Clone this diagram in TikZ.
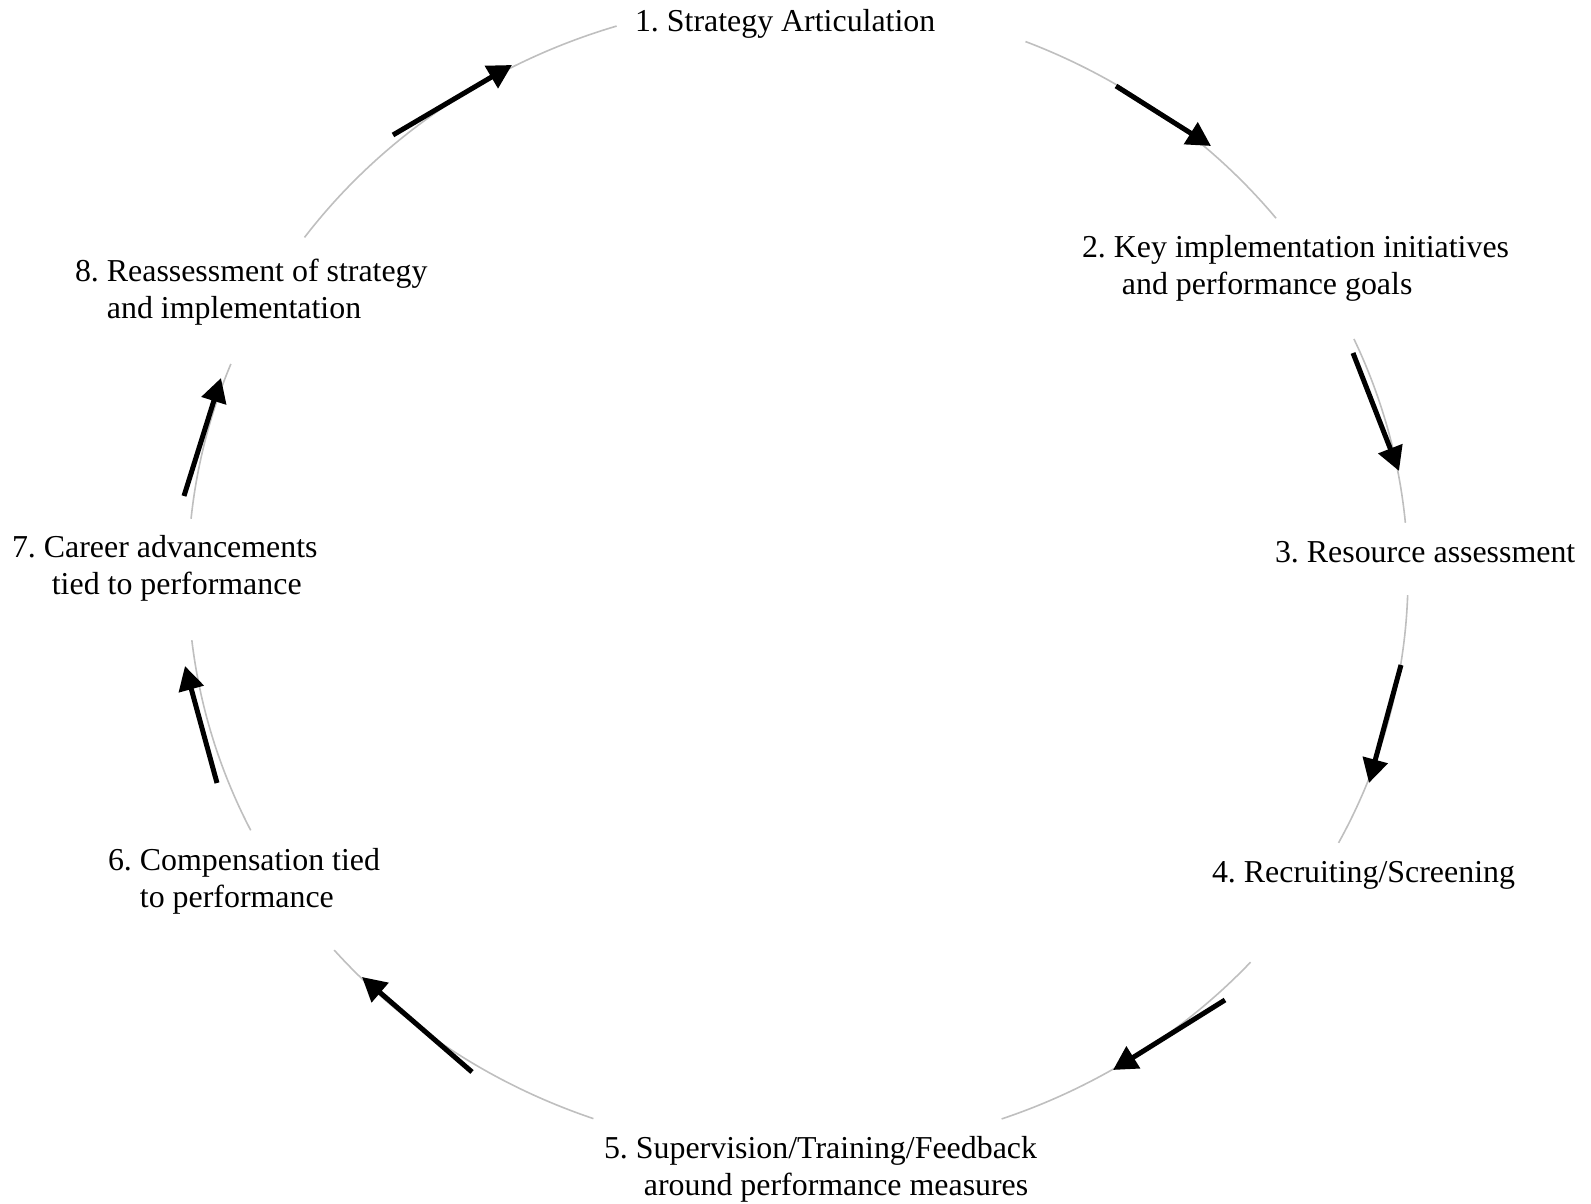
\documentclass[tikz,border=0pt]{standalone}
\usepackage{fontspec}
\setmainfont{Liberation Serif}
\usetikzlibrary{arrows.meta}
\definecolor{ringgray}{RGB}{191,191,191}
\frenchspacing
\begin{document}
\begin{tikzpicture}[x=0.5pt,y=0.5pt,
  ring/.style={draw=ringgray, line width=0.8pt},
  flow/.style={draw=black, line width=2.5pt, -{Triangle[length=12pt,width=12.5pt]}},
  lbl/.style={anchor=north west, inner sep=0pt, outer sep=0pt, align=left,
              font=\fontsize{15.95pt}{18.5pt}\selectfont}]
\useasboundingbox (0,0) rectangle (1591,1204);

% centre of the cycle
\coordinate (c) at (798,628);

% grey ring, broken at each label
\foreach \a/\b in {68.1/38.4, 24.3/5.3, -1.9/-27.6, -42.1/-70.5,
                   -109.6/-139.5, 206.2/186.4, 174.3/158.4, 144/107.3}{
  \draw[ring] (c) ++(\a:610 and 576)
    arc[start angle=\a, end angle=\b, x radius=610, y radius=576];
}

% stage labels
\node[lbl] (s1) at (635,1198) {\strut 1. Strategy Articulation};
\node[lbl] (s2) at (1082,972) {\strut 2. Key implementation initiatives\\
  \hspace*{1.25em}and performance goals};
\node[lbl] (s3) at (1275,667) {\strut 3. Resource assessment};
\node[lbl] (s4) at (1212,347) {\strut 4. Recruiting/Screening};
\node[lbl] (s5) at (604,71) {\strut 5. Supervision/Training/Feedback\\
  \hspace*{1.25em}around performance measures};
\node[lbl] (s6) at (108,359) {\strut 6. Compensation tied\\
  \hspace*{1em}to performance};
\node[lbl] (s7) at (12,672) {\strut 7. Career advancements\\
  \hspace*{1.25em}tied to performance};
\node[lbl] (s8) at (75,948) {\strut 8. Reassessment of strategy\\
  \hspace*{1em}and implementation};

% arrow ends along the ring
\coordinate (t12) at (1116,1118); \coordinate (h12) at (1211,1058);
\coordinate (t23) at (1353,851);  \coordinate (h23) at (1399,733);
\coordinate (t34) at (1401,539);  \coordinate (h34) at (1369,421);
\coordinate (t45) at (1225,204);  \coordinate (h45) at (1113,134);
\coordinate (t56) at (472,132);   \coordinate (h56) at (362,227);
\coordinate (t67) at (217,421);   \coordinate (h67) at (185,538);
\coordinate (t78) at (184,708);   \coordinate (h78) at (221,826);
\coordinate (t81) at (393,1069);  \coordinate (h81) at (512,1139);

\foreach \p in {12,23,34,45,56,67,78,81}{
  \draw[flow] (t\p) -- (h\p);
}
\end{tikzpicture}
\end{document}
